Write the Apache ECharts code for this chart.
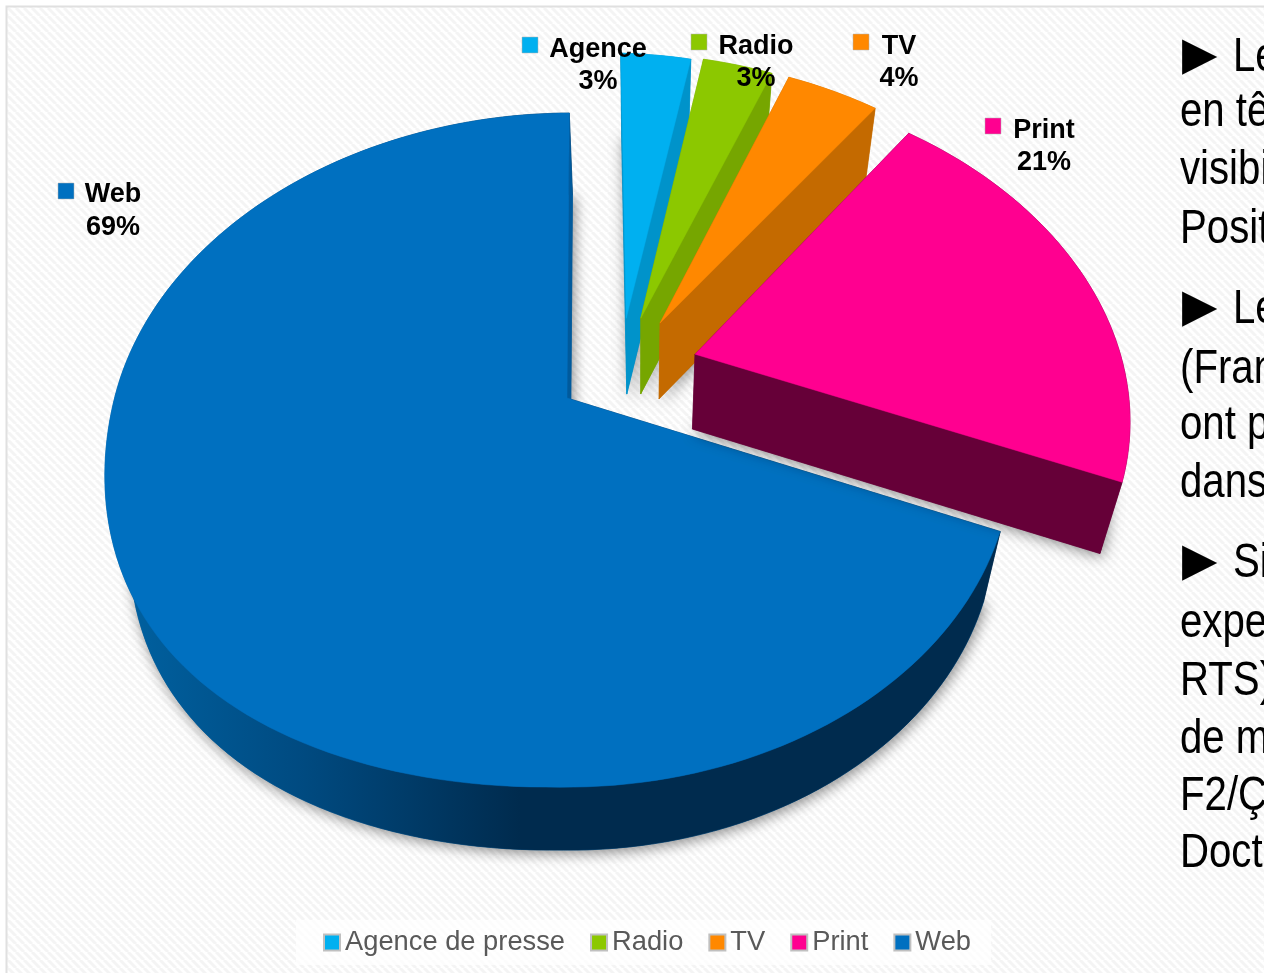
<!DOCTYPE html>
<html>
<head>
<meta charset="utf-8">
<style>html,body{margin:0;padding:0;background:#fff;overflow:hidden}#chart{width:1264px;height:973px}</style>
<script src="https://cdn.jsdelivr.net/npm/echarts@6/dist/echarts.min.js"></script>
</head>
<body>
<div id="chart"></div>
<script>
// Share of coverage by media type
var categories = ['Agence de presse', 'Radio', 'TV', 'Print', 'Web'];
var shortLabels = ['Agence', 'Radio', 'TV', 'Print', 'Web'];
var values = [3, 3, 4, 21, 69];
var topColors = ['#00b0f0', '#8cc800', '#ff8800', '#ff0090', '#0070c0'];
var sideColors = ['#0093ca', '#76a600', '#c46a00', '#660038', '#005a9c'];
var sideText = [
  [57, 'Le'], [112, 'en tê'], [170, 'visibi'], [229, 'Posit'],
  [309, 'Le'], [369, '(Fran'], [425, 'ont p'], [483, 'dans'],
  [563, 'Si'], [623, 'expe'], [681, 'RTS)'], [739, 'de m'], [796, 'F2/Ç'], [853, 'Doct']
];

// Perspective of the pie plane: unit disc (u to the right, v toward the viewer) to pixels
var view = { ox: 567, oy: 398, a: 447, b: -12, c: 329, d: 14, k: 0.1543, m: 0.012, q: 50, rot: -1.2 };
// Explosion of each slice in disc units
var explode = [[0.131, -0.258], [0.165, -0.26], [0.21, -0.246], [0.29, -0.149], [0, 0]];
// Extrusion: edges converge slightly going down
var depth = { vx: 639, sx: 0.046, vy: 3086, sy: 0.0274 };
// Data-label placement
var labelAt = [
  { key: [522, 37], x: 598, y1: 49.5, y2: 81.5 },
  { key: [691, 34], x: 756, y1: 46.5, y2: 78.5 },
  { key: [853, 34], x: 899, y1: 46.5, y2: 78.5 },
  { key: [985, 118], x: 1044, y1: 131, y2: 163 },
  { key: [58, 183], x: 113, y1: 195, y2: 228 }
];
var faceOrder = [1, 2, 3, 4, 0];

function project(u, v) {
  var w = 1 - view.k * v + view.m * u;
  var across = view.a * u + view.b * v;
  // the near-left quadrant bulges a little further out
  if (u < 0 && v > 0) across += view.q * u * v * v;
  return [view.ox + across / w, view.oy + (view.d * Math.max(u, 0) + view.c * v) / w];
}
function extrude(p) {
  return [p[0] - (p[0] - depth.vx) * depth.sx, p[1] + (depth.vy - p[1]) * depth.sy];
}
function sliceAngles(i) {
  var total = values.reduce(function (s, x) { return s + x; }, 0);
  var before = values.slice(0, i).reduce(function (s, x) { return s + x; }, 0);
  return [before / total * 360 + view.rot, (before + values[i]) / total * 360 + view.rot];
}
function rimPoint(i, deg) {
  var t = deg * Math.PI / 180;
  return project(explode[i][0] + Math.sin(t), explode[i][1] - Math.cos(t));
}

function renderSlice(params, api) {
  var i = params.seriesIndex;
  var ang = sliceAngles(i);
  var apex = project(explode[i][0], explode[i][1]);
  var rim = [];
  var steps = Math.max(4, Math.round((ang[1] - ang[0]) / 1.5));
  for (var s = 0; s <= steps; s++) rim.push(rimPoint(i, ang[0] + (ang[1] - ang[0]) * s / steps));
  var rimLow = rim.map(extrude);
  var apexLow = extrude(apex);
  var base = faceOrder[i] * 10;
  var first = rim[0], last = rim[rim.length - 1];
  var children = [];
  function poly(points, fill, z2, extra) {
    children.push({
      type: 'polygon', z2: z2,
      shape: { points: points },
      style: Object.assign({ fill: fill, stroke: fill, lineWidth: 0.5 }, extra || {})
    });
  }
  // soft cast shadow under the whole solid
  poly([apexLow].concat(rimLow), sideColors[i], base, {
    shadowBlur: 14, shadowColor: 'rgba(0,0,0,0.45)', shadowOffsetX: 2, shadowOffsetY: 3
  });
  // shaded wall along the rim
  var wall = i === 4 ? new echarts.graphic.LinearGradient(130, 0, 520, 0, [
    { offset: 0, color: '#00609f' }, { offset: 0.45, color: '#004a80' }, { offset: 1, color: '#002b4e' }
  ], true) : sideColors[i];
  poly(rim.concat(rimLow.slice().reverse()), wall, base + 1);
  // the two cut faces; the large slice's leading face sits in the dark part of its wall
  poly([apex, first, rimLow[0], apexLow], i === 4 ? '#002b4e' : sideColors[i], base + 1);
  poly([apex, last, rimLow[rimLow.length - 1], apexLow], sideColors[i], base + 2);
  // top face
  poly([apex].concat(rim), topColors[i], base + 3);

  // data label: key square, name, percentage
  var at = labelAt[i];
  children.push({
    type: 'rect', z2: 200, shape: { x: at.key[0], y: at.key[1], width: 16, height: 16 },
    style: { fill: topColors[i], stroke: '#b0b0b0', lineWidth: 0.5 }
  });
  [[shortLabels[i], at.y1], [api.value(0) + '%', at.y2]].forEach(function (t) {
    children.push({
      type: 'text', z2: 201, x: at.x, y: t[1],
      style: {
        text: t[0], fill: '#000', align: 'center', verticalAlign: 'middle',
        font: 'bold 27px "Liberation Sans", Arial, sans-serif'
      }
    });
  });
  return { type: 'group', children: children };
}

// Diagonal weave of the panel
var tile = document.createElement('canvas');
tile.width = tile.height = 8;
(function () {
  var g = tile.getContext('2d');
  g.fillStyle = '#ffffff';
  g.fillRect(0, 0, 8, 8);
  g.strokeStyle = '#f4f4f4';
  g.lineWidth = 3;
  [-8, 0, 8].forEach(function (o) {
    g.beginPath(); g.moveTo(o, 0); g.lineTo(o + 8, 8); g.stroke();
  });
})();

var graphicItems = [{
  type: 'rect', z: -10, silent: true,
  shape: { x: 6.5, y: 6.5, width: 1270, height: 980 },
  style: { fill: { image: tile, repeat: 'repeat' }, stroke: '#e0e0e0', lineWidth: 2 }
}, {
  type: 'rect', z: -9, silent: true,
  shape: { x: 296, y: 920, width: 695, height: 45 },
  style: { fill: 'rgba(255,255,255,0.75)' }
}];
sideText.forEach(function (row) {
  var bullet = row[1] === 'Le' || row[1] === 'Si';
  graphicItems.push({
    type: 'text', silent: true, x: bullet ? 1233 : 1180, y: row[0], scaleX: 0.82,
    style: {
      text: row[1], fill: '#000', verticalAlign: 'middle',
      font: '49px "Liberation Sans", Arial, sans-serif'
    }
  });
});
[57, 309, 563].forEach(function (y) {
  graphicItems.push({
    type: 'text', silent: true, x: 1182, y: y,
    style: { text: '▶', fill: '#000', verticalAlign: 'middle', font: '46px "DejaVu Sans"' }
  });
});

var chart = echarts.init(document.getElementById('chart'), null, { renderer: 'canvas' });
chart.setOption({
  animation: false,
  backgroundColor: '#ffffff',
  graphic: graphicItems,
  legend: {
    data: categories, left: 318, top: 924, orient: 'horizontal',
    itemWidth: 16, itemHeight: 16, itemGap: 25, selectedMode: false,
    icon: 'rect',
    textStyle: { color: '#595959', fontSize: 27.3, fontFamily: '"Liberation Sans", Arial, sans-serif' }
  },
  series: categories.map(function (name, i) {
    return {
      type: 'custom', name: name, coordinateSystem: 'none',
      data: [values[i]], renderItem: renderSlice, silent: true,
      itemStyle: { color: topColors[i], borderColor: '#c0c0c0', borderWidth: 0.5 },
      clip: false
    };
  })
});
</script>
</body>
</html>
